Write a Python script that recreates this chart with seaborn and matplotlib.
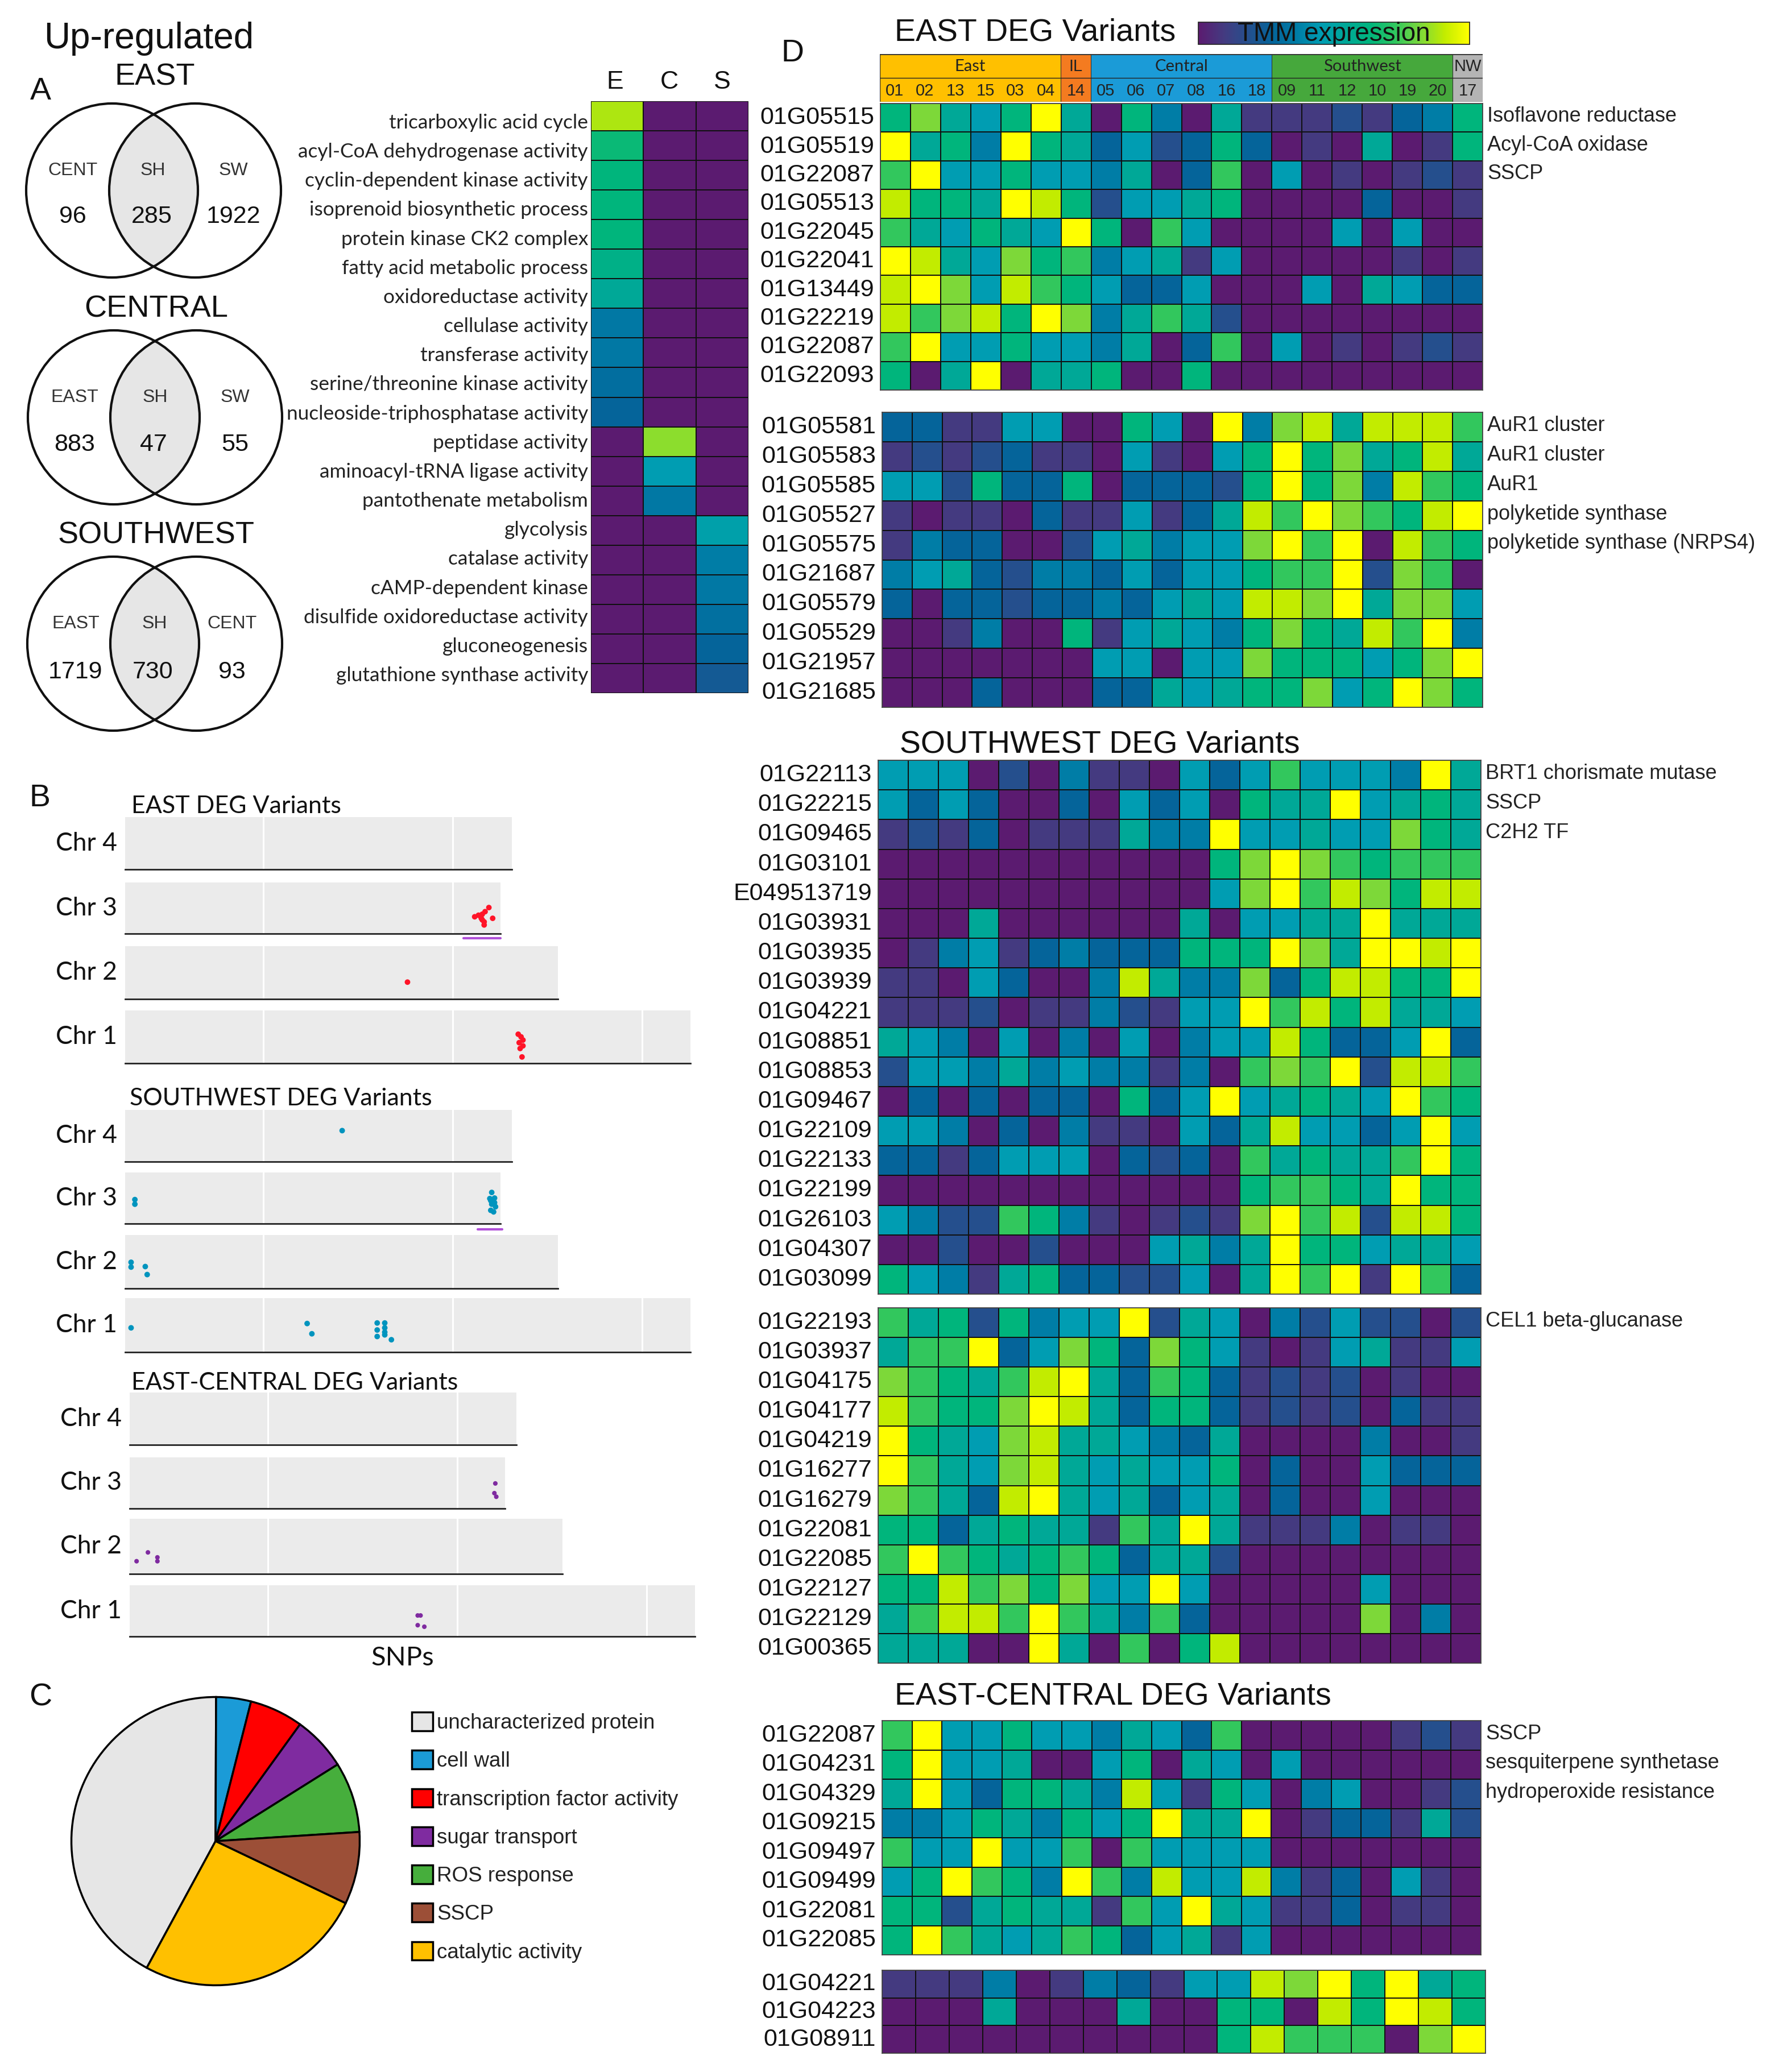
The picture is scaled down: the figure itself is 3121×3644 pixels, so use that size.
import numpy as np
import pandas as pd
import matplotlib
matplotlib.use("Agg")
import matplotlib.pyplot as plt
import seaborn as sns
from matplotlib.colors import LinearSegmentedColormap, ListedColormap, Normalize
from matplotlib.cm import ScalarMappable
from matplotlib.patches import Ellipse, Patch

W, H = 3121, 3644

# colour code 0..11
TMM_COLORS = ["#5B1B70", "#443A80", "#254F8D", "#04649A", "#007DA6", "#009DB2",
              "#00A897", "#00B57C", "#30C75E", "#7CD83A", "#C2EC00", "#FFFF00"]

# panel A
venn_titles = ["EAST", "CENTRAL", "SOUTHWEST"]
venn_labels = [["CENT", "SH", "SW"], ["EAST", "SH", "SW"], ["EAST", "SH", "CENT"]]
venn_counts = [[96, 285, 1922], [883, 47, 55], [1719, 730, 93]]

go_terms = ["tricarboxylic acid cycle", "acyl-CoA dehydrogenase activity", "cyclin-dependent kinase activity",
            "isoprenoid biosynthetic process", "protein kinase CK2 complex", "fatty acid metabolic process",
            "oxidoreductase activity", "cellulase activity", "transferase activity",
            "serine/threonine kinase activity", "nucleoside-triphosphatase activity", "peptidase activity",
            "aminoacyl-tRNA ligase activity", "pantothenate metabolism", "glycolysis", "catalase activity",
            "cAMP-dependent kinase", "disulfide oxidoreductase activity", "gluconeogenesis",
            "glutathione synthase activity"]
go_e = [9.7, 7.2, 7, 7, 7, 6.6, 6, 3.8, 3.8, 3.4, 3, 0, 0, 0, 0, 0, 0, 0, 0, 0]
go_c = [0, 0, 0, 0, 0, 0, 0, 0, 0, 0, 0, 9.2, 5, 3.8, 0, 0, 0, 0, 0, 0]
go_s = [0, 0, 0, 0, 0, 0, 0, 0, 0, 0, 0, 0, 0, 0, 5.3, 4, 3.8, 3.5, 3, 2.5]

# panel B, position in Mb and height inside the strip
east_chr = [3] * 10 + [2] + [1] * 7
east_pos = [4.23, 4.27, 4.30, 4.31, 4.34, 4.38, 4.42, 4.31, 4.33, 4.33, 3.52,
            4.69, 4.72, 4.74, 4.70, 4.74, 4.71, 4.73]
east_h = [.33, .36, .30, .38, .43, .51, .30, .27, .23, .17, .32,
          .55, .50, .44, .39, .33, .28, .12]

sw_chr = [4] + [3] * 11 + [2] * 4 + [1] * 11
sw_pos = [2.83, 0.64, 0.64, 4.41, 4.44, 4.40, 4.44, 4.41, 4.45, 4.40, 4.43, 4.39,
          0.60, 0.60, 0.75, 0.77,
          0.60, 2.46, 2.51, 3.20, 3.20, 3.20, 3.28, 3.28, 3.28, 3.28, 3.35]
sw_h = [.60, .47, .38, .61, .50, .45, .41, .38, .33, .26, .23, .49,
        .49, .40, .41, .26,
        .45, .53, .34, .54, .41, .29, .54, .45, .37, .32, .23]

ec_chr = [3] * 3 + [2] * 4 + [1] * 4
ec_pos = [4.40, 4.39, 4.41, 0.61, 0.73, 0.83, 0.83, 3.58, 3.61, 3.58, 3.65]
ec_h = [.49, .30, .23, .23, .39, .30, .23, .41, .41, .22, .19]

chr_names = [4, 3, 2, 1]
chr_ends = [4.62, 4.50, 5.11, 6.51]
X_START = 0.537

# panel C
pie_names = ["uncharacterized protein", "cell wall", "transcription factor activity", "sugar transport",
             "ROS response", "SSCP", "catalytic activity"]
pie_values = [42.1, 3.9, 6.0, 6.1, 7.9, 8.1, 25.8]
pie_colors = ["#E6E6E6", "#1B9BD7", "#FF0000", "#7F2BA0", "#46AE3C", "#9C4F37", "#FFC000"]

# panel D
group_names = ["East", "IL", "Central", "Southwest", "NW"]
group_colors = ["#FFC000", "#F47B20", "#1B9BD7", "#46A83C", "#B4B4B4"]
group_sizes = [6, 1, 6, 6, 1]
sample_ids = ["01", "02", "13", "15", "03", "04", "14", "05", "06", "07", "08", "16", "18",
              "09", "11", "12", "10", "19", "20", "17"]

east1_genes = ["01G05515", "01G05519", "01G22087", "01G05513", "01G22045", "01G22041", "01G13449", "01G22219",
               "01G22087", "01G22093"]
east1 = [[7, 9, 6, 5, 7, 11, 6, 0, 7, 4, 0, 6, 1, 1, 1, 2, 1, 3, 4, 7],
         [11, 6, 7, 4, 11, 7, 6, 3, 5, 2, 3, 7, 3, 0, 1, 0, 6, 0, 1, 7],
         [8, 11, 5, 5, 7, 5, 5, 4, 6, 0, 3, 8, 0, 5, 0, 1, 0, 1, 2, 1],
         [10, 7, 7, 6, 11, 10, 7, 2, 5, 5, 6, 7, 0, 0, 0, 0, 3, 0, 0, 1],
         [8, 6, 5, 7, 6, 5, 11, 7, 0, 8, 5, 0, 0, 0, 0, 5, 0, 5, 0, 0],
         [11, 10, 6, 5, 9, 7, 8, 4, 5, 6, 1, 5, 0, 0, 0, 0, 0, 1, 0, 1],
         [10, 11, 9, 5, 10, 8, 7, 5, 3, 3, 5, 0, 0, 0, 5, 0, 6, 5, 3, 3],
         [10, 8, 9, 10, 7, 11, 9, 4, 6, 8, 6, 2, 0, 0, 0, 0, 0, 0, 0, 0],
         [8, 11, 5, 5, 7, 5, 5, 4, 6, 0, 3, 8, 0, 5, 0, 1, 0, 1, 2, 1],
         [7, 0, 6, 11, 0, 6, 6, 7, 0, 0, 7, 0, 0, 0, 0, 0, 0, 0, 0, 0]]
east1_notes = ["Isoflavone reductase", "Acyl-CoA oxidase", "SSCP"]

east2_genes = ["01G05581", "01G05583", "01G05585", "01G05527", "01G05575", "01G21687", "01G05579", "01G05529",
               "01G21957", "01G21685"]
east2 = [[3, 3, 1, 1, 5, 5, 0, 0, 7, 5, 0, 11, 4, 9, 10, 6, 10, 10, 10, 8],
         [1, 2, 1, 2, 3, 1, 1, 0, 5, 1, 0, 5, 7, 11, 7, 9, 6, 7, 10, 6],
         [5, 5, 2, 7, 3, 3, 7, 0, 3, 3, 3, 2, 7, 11, 7, 9, 4, 10, 8, 7],
         [1, 0, 1, 1, 0, 3, 1, 1, 5, 1, 3, 6, 10, 8, 11, 9, 8, 7, 10, 11],
         [1, 4, 3, 3, 0, 0, 2, 5, 6, 4, 5, 5, 9, 11, 8, 11, 0, 10, 8, 7],
         [4, 5, 6, 3, 2, 4, 4, 3, 5, 3, 5, 5, 7, 8, 8, 11, 2, 9, 8, 0],
         [3, 0, 3, 3, 2, 3, 3, 4, 3, 5, 6, 5, 10, 10, 9, 11, 6, 9, 9, 5],
         [0, 0, 1, 4, 0, 0, 7, 1, 5, 6, 5, 4, 7, 9, 7, 6, 10, 8, 11, 4],
         [0, 0, 0, 0, 0, 0, 0, 5, 5, 0, 5, 5, 9, 7, 7, 7, 5, 7, 9, 11],
         [0, 0, 0, 3, 0, 0, 0, 3, 3, 6, 5, 6, 7, 7, 9, 5, 7, 11, 9, 7]]
east2_notes = ["AuR1 cluster", "AuR1 cluster", "AuR1", "polyketide synthase", "polyketide synthase (NRPS4)"]

sw1_genes = ["01G22113", "01G22215", "01G09465", "01G03101", "E049513719", "01G03931", "01G03935", "01G03939",
             "01G04221", "01G08851", "01G08853", "01G09467", "01G22109", "01G22133", "01G22199", "01G26103",
             "01G04307", "01G03099"]
sw1 = [[5, 5, 5, 0, 2, 0, 4, 1, 1, 0, 5, 3, 5, 8, 5, 5, 5, 4, 11, 6],
       [5, 3, 5, 3, 0, 0, 3, 0, 5, 3, 5, 0, 7, 6, 6, 11, 5, 6, 7, 6],
       [1, 2, 1, 3, 0, 1, 1, 1, 6, 4, 4, 11, 5, 5, 6, 5, 5, 9, 7, 6],
       [0, 0, 0, 0, 0, 0, 0, 0, 0, 0, 0, 7, 9, 11, 9, 8, 7, 8, 8, 8],
       [0, 0, 0, 0, 0, 0, 0, 0, 0, 0, 0, 5, 9, 11, 8, 10, 9, 7, 10, 10],
       [0, 0, 0, 6, 0, 0, 0, 0, 0, 0, 6, 0, 5, 5, 6, 6, 11, 6, 6, 6],
       [0, 1, 4, 5, 1, 3, 4, 3, 3, 3, 7, 7, 7, 11, 9, 6, 11, 11, 10, 11],
       [1, 1, 0, 5, 3, 0, 0, 4, 10, 6, 4, 4, 9, 3, 7, 10, 10, 7, 7, 11],
       [1, 1, 1, 2, 0, 1, 1, 4, 2, 1, 5, 5, 11, 8, 10, 7, 10, 6, 6, 5],
       [6, 5, 4, 0, 5, 0, 4, 0, 5, 0, 4, 5, 5, 10, 7, 3, 3, 5, 11, 3],
       [2, 5, 5, 4, 6, 4, 5, 4, 4, 1, 4, 0, 8, 9, 8, 11, 2, 10, 10, 8],
       [0, 3, 0, 3, 0, 3, 3, 0, 7, 3, 5, 11, 5, 6, 7, 6, 5, 11, 8, 7],
       [5, 5, 4, 0, 3, 0, 4, 1, 1, 0, 5, 3, 6, 10, 5, 5, 3, 5, 11, 5],
       [3, 3, 1, 3, 5, 5, 5, 0, 3, 2, 3, 0, 8, 6, 7, 6, 6, 8, 11, 7],
       [0, 0, 0, 0, 0, 0, 0, 0, 0, 0, 0, 0, 7, 8, 8, 7, 6, 11, 7, 7],
       [5, 4, 2, 2, 8, 7, 4, 1, 0, 1, 2, 1, 9, 11, 8, 10, 2, 10, 10, 7],
       [0, 0, 2, 0, 0, 2, 0, 0, 0, 5, 6, 4, 6, 11, 7, 7, 5, 6, 6, 5],
       [7, 5, 4, 1, 6, 7, 3, 3, 2, 2, 5, 0, 6, 11, 8, 11, 1, 11, 8, 3]]
sw1_notes = ["BRT1 chorismate mutase", "SSCP", "C2H2 TF"]

sw2_genes = ["01G22193", "01G03937", "01G04175", "01G04177", "01G04219", "01G16277", "01G16279", "01G22081",
             "01G22085", "01G22127", "01G22129", "01G00365"]
sw2 = [[8, 6, 7, 2, 7, 4, 5, 5, 11, 2, 6, 5, 0, 4, 2, 5, 2, 2, 0, 2],
       [6, 8, 8, 11, 3, 5, 9, 7, 3, 9, 7, 5, 1, 0, 1, 5, 6, 1, 1, 5],
       [9, 8, 7, 6, 8, 10, 11, 6, 3, 8, 7, 3, 1, 2, 1, 2, 0, 1, 0, 0],
       [10, 8, 7, 7, 9, 11, 10, 6, 3, 7, 7, 3, 1, 2, 1, 2, 0, 3, 1, 1],
       [11, 7, 6, 5, 9, 10, 6, 6, 5, 4, 3, 6, 0, 0, 0, 0, 4, 0, 0, 1],
       [11, 8, 6, 5, 9, 10, 6, 5, 6, 5, 5, 7, 0, 3, 0, 0, 5, 3, 3, 3],
       [9, 8, 6, 3, 10, 11, 6, 5, 6, 3, 5, 6, 0, 3, 0, 0, 5, 0, 0, 0],
       [7, 7, 3, 6, 7, 6, 6, 1, 8, 6, 11, 6, 1, 1, 1, 4, 0, 1, 1, 0],
       [8, 11, 8, 7, 6, 7, 8, 7, 3, 6, 6, 2, 0, 0, 0, 0, 0, 0, 0, 0],
       [7, 7, 10, 8, 9, 7, 9, 5, 5, 11, 5, 0, 0, 0, 0, 0, 5, 0, 0, 0],
       [6, 8, 10, 10, 8, 11, 8, 6, 4, 8, 3, 0, 0, 0, 0, 0, 9, 0, 4, 0],
       [6, 6, 6, 0, 0, 11, 6, 0, 8, 0, 7, 10, 0, 0, 0, 0, 0, 0, 0, 0]]
sw2_notes = ["CEL1 beta-glucanase"]

ec1_genes = ["01G22087", "01G04231", "01G04329", "01G09215", "01G09497", "01G09499", "01G22081", "01G22085"]
ec1 = [[8, 11, 5, 5, 7, 5, 5, 4, 6, 5, 3, 8, 0, 0, 0, 0, 0, 1, 2, 1],
       [7, 11, 5, 5, 6, 0, 0, 5, 7, 0, 6, 5, 0, 5, 0, 0, 0, 0, 0, 0],
       [6, 11, 5, 3, 7, 7, 6, 4, 10, 5, 1, 7, 5, 0, 4, 5, 0, 0, 1, 2],
       [4, 4, 5, 7, 6, 4, 7, 5, 7, 11, 6, 6, 11, 0, 1, 3, 3, 1, 6, 2],
       [8, 5, 5, 11, 5, 5, 8, 0, 8, 5, 5, 5, 5, 0, 0, 0, 0, 0, 0, 0],
       [5, 7, 11, 8, 7, 4, 11, 8, 4, 10, 5, 5, 10, 4, 1, 3, 0, 5, 1, 0],
       [7, 7, 2, 6, 7, 6, 6, 1, 8, 5, 11, 6, 5, 1, 1, 3, 0, 1, 1, 0],
       [7, 11, 8, 6, 5, 6, 8, 7, 3, 5, 6, 1, 5, 0, 0, 0, 0, 0, 0, 0]]
ec1_notes = ["SSCP", "sesquiterpene synthetase", "hydroperoxide resistance"]

ec2_genes = ["01G04221", "01G04223", "01G08911"]
ec2 = [[1, 1, 1, 4, 0, 1, 4, 3, 1, 5, 5, 10, 9, 11, 7, 11, 6, 7],
       [0, 0, 0, 6, 0, 0, 0, 6, 0, 0, 7, 7, 0, 10, 7, 11, 10, 7],
       [0, 0, 0, 0, 0, 0, 0, 0, 0, 0, 7, 10, 8, 8, 8, 0, 9, 11]]

SIDE_FONT = ["Lato", "DejaVu Sans"]

sns.set_theme(style="white")
plt.rcParams["font.family"] = ["Liberation Sans", "DejaVu Sans"]
tmm_cmap = LinearSegmentedColormap.from_list("tmm", TMM_COLORS)


def px_axes(fig, x0, y0, x1, y1):
    return fig.add_axes([x0 / W, 1 - y1 / H, (x1 - x0) / W, (y1 - y0) / H])


def draw_venn(page, cy, xl, xr, title, labels, counts, tx, ty, ny):
    rx, ry = 151, 153
    lens = Ellipse((xl, cy), 2 * rx, 2 * ry, fc="#E6E6E6", ec="none")
    clip = Ellipse((xr, cy), 2 * rx, 2 * ry, fc="none", ec="none", transform=page.transData)
    page.add_patch(lens)
    lens.set_clip_path(clip)
    for x in (xl, xr):
        page.add_patch(Ellipse((x, cy), 2 * rx, 2 * ry, fc="none", ec="#111111", lw=3))
    page.text((xl + xr) / 2 + 2, ty, title, fontsize=39, ha="center", va="center", color="#111111")
    for x, lab, cnt, nx in zip(tx, labels, counts, [tx[0], (xl + xr) / 2 - 3, tx[2]]):
        page.text(x, cy - 35, lab, fontsize=23, ha="center", va="center", color="#333333")
        page.text(nx, ny, str(cnt), fontsize=31, ha="center", va="center", color="#111111")


def draw_heat(fig, values, genes, box, notes=()):
    ax = px_axes(fig, *box)
    sns.heatmap(np.array(values), ax=ax, cmap=tmm_cmap, vmin=0, vmax=11, cbar=False,
                linewidths=1.2, linecolor="#101010", xticklabels=False, yticklabels=genes)
    ax.tick_params(left=False, pad=2, labelsize=31, colors="#111111")
    plt.setp(ax.get_yticklabels(), rotation=0, va="center")
    for sp in ax.spines.values():
        sp.set_visible(True)
        sp.set_color("#444444")
        sp.set_linewidth(1.2)
    for i, note in enumerate(notes):
        ax.annotate(note, xy=(1, i + 0.45), xycoords=ax.get_yaxis_transform(), xytext=(6, 0),
                    textcoords="offset points", va="center", fontsize=26, color="#222222")
    return ax


def draw_header(fig, box):
    ax = px_axes(fig, *box)
    codes = np.repeat(np.arange(len(group_sizes)), group_sizes)
    sns.heatmap(np.vstack([codes, codes]), ax=ax, cmap=ListedColormap(group_colors), cbar=False,
                xticklabels=False, yticklabels=False, linewidths=0)
    edges = np.cumsum(group_sizes)
    start = 0
    for name, end in zip(group_names, edges):
        ax.text((start + end) / 2, 0.52, name, ha="center", va="center", fontsize=21, color="#222222",
                family=SIDE_FONT if len(name) > 2 else None)
        ax.axvline(end, color="#333333", lw=0.8)
        start = end
    for i, sid in enumerate(sample_ids):
        ax.text(i + 0.5, 1.55, sid, ha="center", va="center", fontsize=21, color="#222222")
    ax.axhline(1, color="#222222", lw=1)
    ax.axhline(0, color="#333333", lw=2)
    ax.axhline(2, color="#333333", lw=1)
    ax.axvline(0, color="#333333", lw=1)


def draw_strips(fig, title, tx, ty, left, strips, chrom, pos, height, color, size, marks=None):
    df = pd.DataFrame({"chr": chrom, "pos": pos, "h": height})
    px_per_mb = 194.75 * 0.8546
    fig.text(tx / W, 1 - ty / H, title, fontsize=31, family=SIDE_FONT, color="#111111", va="center")
    for c, end, (y0, y1) in zip(chr_names, chr_ends, strips):
        ax = px_axes(fig, left, y0, left + (end - X_START) * px_per_mb, y1)
        ax.set_facecolor("#EBEBEB")
        sns.scatterplot(data=df[df["chr"] == c], x="pos", y="h", ax=ax, color=color, s=size,
                        edgecolor="none", legend=False, clip_on=False, zorder=3)
        ax.set_xlim(X_START, end)
        ax.set_ylim(0, 1)
        ax.set_xticks([t for t in (2, 4, 6) if t < end])
        ax.set_yticks([])
        ax.grid(axis="x", color="white", lw=2.2)
        ax.set_axisbelow(True)
        ax.tick_params(bottom=False, labelbottom=False)
        ax.set_xlabel("")
        ax.set_ylabel(f"Chr {c}", rotation=0, ha="right", va="center", fontsize=32, family=SIDE_FONT,
                      labelpad=10, color="#111111")
        for name, sp in ax.spines.items():
            sp.set_visible(name == "bottom")
        ax.spines["bottom"].set_color("#222222")
        ax.spines["bottom"].set_linewidth(2)
        if marks and c in marks:
            a, b, y = marks[c]
            ax.plot([a, b], [y, y], color="#B050D8", lw=3, clip_on=False)


def main():
    fig = plt.figure(figsize=(W / 100, H / 100), dpi=100)
    page = fig.add_axes([0, 0, 1, 1])
    page.set_xlim(0, W)
    page.set_ylim(H, 0)
    page.axis("off")

    page.text(262, 68, "Up-regulated", fontsize=46, ha="center", va="center", color="#111111")
    for letter, x, y in [("A", 71, 161), ("B", 70, 1404), ("C", 71, 2986), ("D", 1393, 94)]:
        page.text(x, y, letter, fontsize=40, ha="center", va="center", color="#111111")

    draw_venn(page, 335, 197, 343, venn_titles[0], venn_labels[0], venn_counts[0], [128, 269, 410], 136, 381)
    draw_venn(page, 734, 200, 345, venn_titles[1], venn_labels[1], venn_counts[1], [131, 273, 413], 543, 782)
    draw_venn(page, 1132, 199, 345, venn_titles[2], venn_labels[2], venn_counts[2], [133, 272, 408], 942, 1182)

    # GO term heatmap
    go_ax = px_axes(fig, 1039, 178, 1316, 1219)
    go_data = pd.DataFrame({"E": go_e, "C": go_c, "S": go_s}, index=go_terms)
    sns.heatmap(go_data, ax=go_ax, cmap=tmm_cmap, vmin=0, vmax=11, cbar=False, linewidths=1.2,
                linecolor="#101010", xticklabels=False, yticklabels=False)
    for name, x in zip(go_data.columns, [1081, 1177, 1270]):
        page.text(x, 144, name, fontsize=32, ha="center", va="center", color="#111111")
    for term, y in zip(go_terms, np.linspace(216, 1188, len(go_terms))):
        page.text(1034, y, term, fontsize=25.4, family=SIDE_FONT, ha="right", va="center", color="#222222")

    # SNP strips
    draw_strips(fig, "EAST DEG Variants", 231, 1418, 220,
                [(1437, 1529), (1552, 1642), (1664, 1757), (1777, 1870)],
                east_chr, east_pos, east_h, "#FF1428", 50, {3: (4.11, 4.50, -0.09)})
    draw_strips(fig, "SOUTHWEST DEG Variants", 228, 1932, 220,
                [(1952, 2043), (2062, 2152), (2172, 2266), (2283, 2378)],
                sw_chr, sw_pos, sw_h, "#0094BE", 50, {3: (4.26, 4.52, -0.11)})
    draw_strips(fig, "EAST-CENTRAL DEG Variants", 231, 2432, 228,
                [(2449, 2541), (2563, 2653), (2671, 2768), (2788, 2878)],
                ec_chr, ec_pos, ec_h, "#7F2BA0", 34)
    page.text(708, 2916, "SNPs", fontsize=34, family=SIDE_FONT, ha="center", va="center", color="#111111")

    # pie
    pie_ax = px_axes(fig, 379 - 254, 3238 - 254, 379 + 254, 3238 + 254)
    pie_ax.pie(pie_values, colors=pie_colors, startangle=-118.5, counterclock=False, radius=1,
               wedgeprops={"edgecolor": "black", "linewidth": 2.5})
    pie_ax.set_xlim(-1.002, 1.002)
    pie_ax.set_ylim(-1.002, 1.002)
    handles = [Patch(facecolor=c, edgecolor="black", linewidth=2.5) for c in pie_colors]
    fig.legend(handles, pie_names, loc="upper left", bbox_to_anchor=(724 / W, 1 - 3011 / H), frameon=False,
               fontsize=26.5, labelspacing=0.82, handlelength=1.0, handleheight=1.0, handletextpad=0.2,
               labelcolor="#222222", borderpad=0, borderaxespad=0)

    # D headers and colour key
    page.text(1573, 58, "EAST DEG Variants", fontsize=40, va="center", color="#111111")
    page.text(1582, 1310, "SOUTHWEST DEG Variants", fontsize=40, va="center", color="#111111")
    page.text(1573, 2984, "EAST-CENTRAL DEG Variants", fontsize=40, va="center", color="#111111")
    key_ax = px_axes(fig, 2107, 39, 2584, 78)
    fig.colorbar(ScalarMappable(Normalize(0, 11), tmm_cmap), cax=key_ax, orientation="horizontal", ticks=[])
    key_ax.text(0.5, 0.47, "TMM expression", transform=key_ax.transAxes, fontsize=33, ha="center", va="center",
                color="#111111")

    draw_header(fig, (1547, 95, 2607, 179))
    draw_heat(fig, east1, east1_genes, (1548, 182, 2607, 686), east1_notes)
    draw_heat(fig, east2, east2_genes, (1551, 725, 2607, 1244), east2_notes)
    draw_heat(fig, sw1, sw1_genes, (1544, 1337, 2604, 2276), sw1_notes)
    draw_heat(fig, sw2, sw2_genes, (1544, 2300, 2604, 2925), sw2_notes)
    draw_heat(fig, ec1, ec1_genes, (1551, 3026, 2604, 3438), ec1_notes)
    draw_heat(fig, ec2, ec2_genes, (1551, 3465, 2612, 3611))

    fig.savefig("out.png", dpi=100)
    plt.close(fig)


if __name__ == "__main__":
    main()
